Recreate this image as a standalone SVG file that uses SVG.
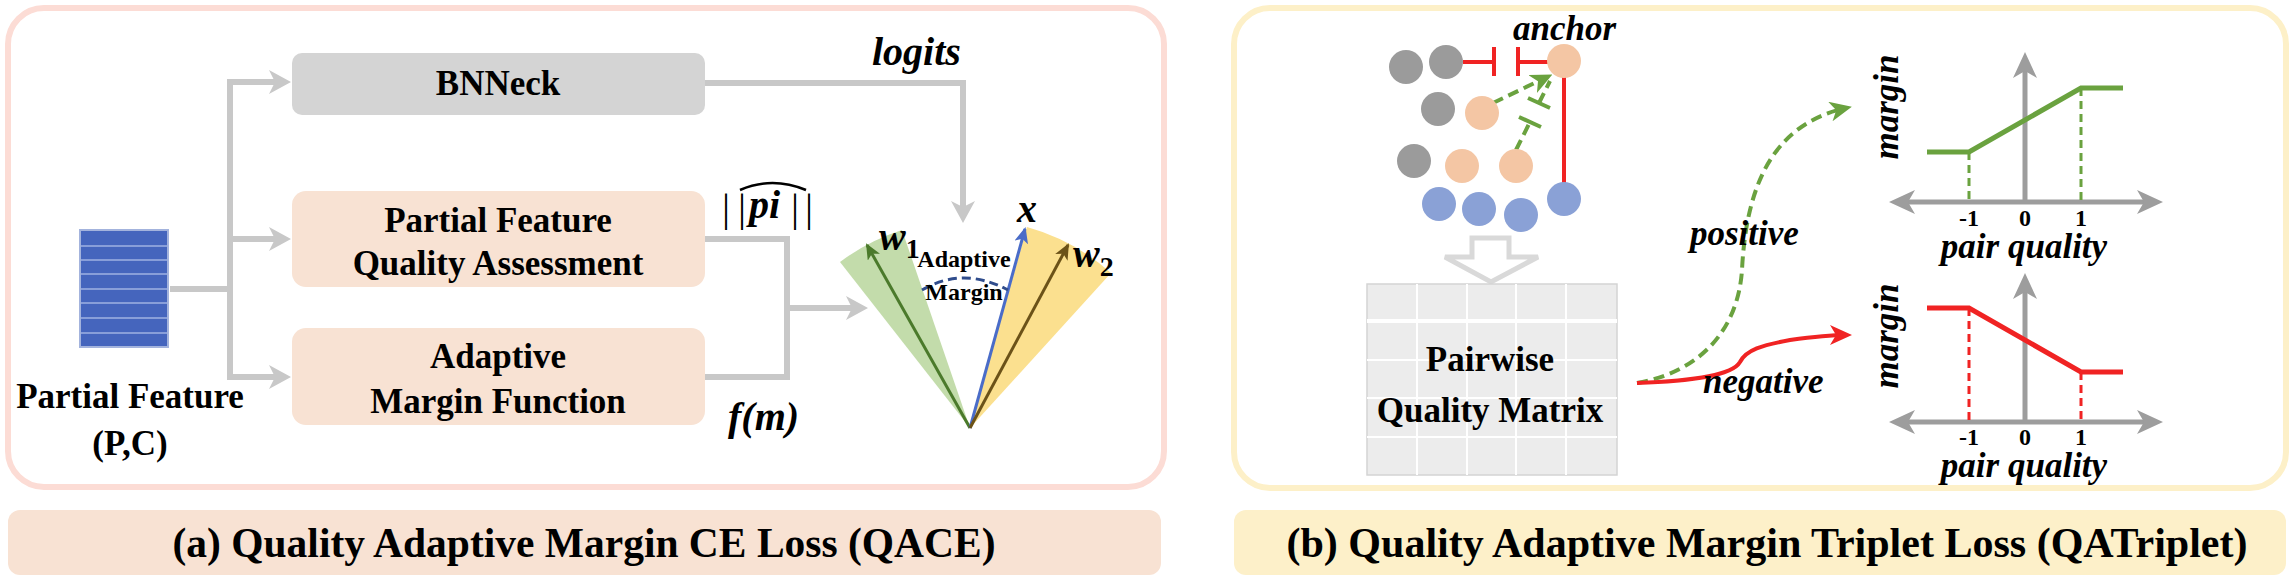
<svg xmlns="http://www.w3.org/2000/svg" width="2296" height="579" viewBox="0 0 2296 579">
<defs>
<style>
text{font-family:"Liberation Serif","Times New Roman",serif;font-weight:bold;fill:#000}
.it{font-style:italic}
.s35{font-size:35px}
.s40{font-size:40px}
.s24{font-size:24px}
.mid{text-anchor:middle}
.conn{fill:none;stroke:#c8c8c8;stroke-width:6}
.axis{fill:none;stroke:#9d9d9d;stroke-width:5}
.gdash{fill:none;stroke:#6aa23f;stroke-width:3;stroke-dasharray:8 5}
.rdash{fill:none;stroke:#f02323;stroke-width:3;stroke-dasharray:8 5}
.grey{fill:#9b9b9b}
.peach{fill:#f4c6a4}
.blue{fill:#8aa1d6}
.red{fill:none;stroke:#f02323;stroke-width:4}
.green{fill:none;stroke:#6aa23f;stroke-width:4;stroke-dasharray:11 6}
.cap{font-size:43px;text-anchor:middle}
</style>
<marker id="ag" viewBox="0 0 22 24" refX="14" refY="12" markerWidth="22" markerHeight="24" markerUnits="userSpaceOnUse" orient="auto"><path d="M0,0 L22,12 L0,24 L6,12 Z" fill="#c8c8c8"/></marker>
<marker id="ax" viewBox="0 0 26 24" refX="18" refY="12" markerWidth="26" markerHeight="24" markerUnits="userSpaceOnUse" orient="auto-start-reverse"><path d="M0,0 L26,12 L0,24 L7,12 Z" fill="#9d9d9d"/></marker>
<marker id="mw1" viewBox="0 0 16 14" refX="14" refY="7" markerWidth="16" markerHeight="14" markerUnits="userSpaceOnUse" orient="auto"><path d="M0,0 L16,7 L0,14 L4,7 Z" fill="#4b7a2b"/></marker>
<marker id="mx" viewBox="0 0 16 14" refX="14" refY="7" markerWidth="16" markerHeight="14" markerUnits="userSpaceOnUse" orient="auto"><path d="M0,0 L16,7 L0,14 L4,7 Z" fill="#4a6cc8"/></marker>
<marker id="mw2" viewBox="0 0 16 14" refX="14" refY="7" markerWidth="16" markerHeight="14" markerUnits="userSpaceOnUse" orient="auto"><path d="M0,0 L16,7 L0,14 L4,7 Z" fill="#6b5218"/></marker>
<marker id="mg" viewBox="0 0 22 20" refX="16" refY="10" markerWidth="22" markerHeight="20" markerUnits="userSpaceOnUse" orient="auto"><path d="M0,0 L22,10 L0,20 L6,10 Z" fill="#6aa23f"/></marker>
<marker id="mr" viewBox="0 0 22 20" refX="16" refY="10" markerWidth="22" markerHeight="20" markerUnits="userSpaceOnUse" orient="auto"><path d="M0,0 L22,10 L0,20 L6,10 Z" fill="#f02323"/></marker>
</defs>

<!-- panels -->
<g id="panel-a">
<rect x="8" y="8" width="1156" height="479" rx="36" fill="#fff" stroke="#fcdcd5" stroke-width="6"/>
</g>
<g id="panel-b">
<rect x="1234" y="8" width="1052" height="480" rx="36" fill="#fff" stroke="#fdf0c8" stroke-width="6"/>
</g>

<!-- connectors -->
<g id="connectors">
<path class="conn" d="M170,289 H230"/>
<path class="conn" d="M283,82 H230 V377 H283" marker-end="url(#ag)"/>
<path class="conn" d="M230,82 H283" marker-end="url(#ag)"/>
<path class="conn" d="M230,239 H283" marker-end="url(#ag)"/>
<path class="conn" d="M705,83 H963 V215" marker-end="url(#ag)"/>
<path class="conn" d="M705,239 H787 V377 H705"/>
<path class="conn" d="M787,308 H860" marker-end="url(#ag)"/>
<path class="green" d="M1637,383 C1700,372 1738,330 1742,270 C1746,190 1770,125 1846,108" marker-end="url(#mg)"/>
<path class="red" d="M1637,383 C1690,381 1732,376 1740,362 C1746,350 1762,345 1790,340 C1812,337 1830,335 1846,335" marker-end="url(#mr)"/>
</g>

<!-- Partial feature block -->
<g id="partial-feature">
<rect x="80" y="230" width="88" height="117" fill="#4565bd" stroke="#a3b3dd" stroke-width="2"/>
<path d="M81,246 H167 M81,260 H167 M81,274 H167 M81,289 H167 M81,303 H167 M81,318 H167 M81,333 H167" stroke="#9fb1e2" stroke-width="1.5"/>
<text class="s35 mid" x="130" y="408">Partial Feature</text>
<text class="s35 mid" x="130" y="455">(P,C)</text>
</g>

<g id="bnneck">
<rect x="292" y="53" width="413" height="62" rx="10" fill="#d4d4d4"/>
<text class="s35 mid" x="498" y="95">BNNeck</text>
</g>
<g id="pfqa">
<rect x="292" y="191" width="413" height="96" rx="14" fill="#f8e2d3"/>
<text class="s35 mid" x="498" y="232">Partial Feature</text>
<text class="s35 mid" x="498" y="275">Quality Assessment</text>
</g>
<g id="amf">
<rect x="292" y="328" width="413" height="97" rx="14" fill="#f8e2d3"/>
<text class="s35 mid" x="498" y="368">Adaptive</text>
<text class="s35 mid" x="498" y="413">Margin Function</text>
</g>

<g id="labels-a">
<text class="s40 it" x="872" y="65">logits</text>
<text class="s40" y="221"><tspan x="722" font-weight="normal">|</tspan><tspan x="738" font-weight="normal">|</tspan><tspan x="749" class="it" y="218">pi</tspan><tspan x="791" y="221" font-weight="normal">|</tspan><tspan x="805" font-weight="normal">|</tspan></text>
<path d="M740,190 Q772,176 806,190" fill="none" stroke="#000" stroke-width="2.5"/>
<text class="s40 it" x="728" y="430">f(m)</text>
</g>

<!-- angular fan -->
<g id="fan">
<path d="M970,428 L840,262 A210,210 0 0,1 902,230 Z" fill="#c3dcab"/>
<path d="M970,428 L1027,227 A210,210 0 0,1 1111,273 Z" fill="#fbe08f"/>
<path d="M970,428 L867,245" stroke="#4b7a2b" stroke-width="3" marker-end="url(#mw1)"/>
<path d="M970,428 L1025,229" stroke="#4a6cc8" stroke-width="3" marker-end="url(#mx)"/>
<path d="M970,428 L1068,245" stroke="#6b5218" stroke-width="3" marker-end="url(#mw2)"/>
<path d="M922,290 Q963,266 1008,290" fill="none" stroke="#2f4c8c" stroke-width="3" stroke-dasharray="9 5"/>
<text class="s40 it" x="879" y="250">w<tspan font-size="28" font-style="normal" dy="8">1</tspan></text>
<text class="s40 it" x="1017" y="222">x</text>
<text class="s40 it" x="1073" y="267">w<tspan font-size="28" font-style="normal" dy="9">2</tspan></text>
<text class="s24 mid" x="964" y="267">Adaptive</text>
<text class="s24 mid" x="964" y="300">Margin</text>
</g>

<!-- triplet samples -->
<g id="samples">
<path class="red" d="M1463,62 H1494 M1494,47 V76 M1518,47 V76 M1518,62 H1548 M1564,77 V184"/>
<path class="green" d="M1493,103 L1547,77" marker-end="url(#mg)"/>
<path class="green" d="M1516,150 L1530,122"/>
<path d="M1519,117 L1541,127 M1528,98 L1550,108" stroke="#6aa23f" stroke-width="4"/>
<path class="green" d="M1539,103 L1550,81"/>
<circle class="grey" cx="1406" cy="67" r="17"/>
<circle class="grey" cx="1446" cy="62" r="17"/>
<circle class="grey" cx="1438" cy="109" r="17"/>
<circle class="grey" cx="1414" cy="161" r="17"/>
<circle class="peach" cx="1564" cy="61" r="17"/>
<circle class="peach" cx="1482" cy="113" r="17"/>
<circle class="peach" cx="1462" cy="166" r="17"/>
<circle class="peach" cx="1516" cy="166" r="17"/>
<circle class="blue" cx="1439" cy="204" r="17"/>
<circle class="blue" cx="1479" cy="209" r="17"/>
<circle class="blue" cx="1521" cy="215" r="17"/>
<circle class="blue" cx="1564" cy="199" r="17"/>
<text class="s35 it" x="1513" y="40">anchor</text>
<path d="M1472,238 H1509 V257 H1538 L1491,282 L1445,257 H1472 Z" fill="#fff" stroke="#d9d9d9" stroke-width="5"/>
</g>

<g id="matrix">
<rect x="1367" y="284" width="250" height="191" fill="#ececec" stroke="#d4d4d4" stroke-width="1.5"/>
<path d="M1417,284 V475 M1467,284 V475 M1516,284 V475 M1566,284 V475 M1367,360 H1617 M1367,398 H1617 M1367,437 H1617" stroke="#fff" stroke-width="2"/>
<path d="M1367,321 H1617" stroke="#fff" stroke-width="4"/>
<text class="s35 mid" x="1490" y="371">Pairwise</text>
<text class="s35 mid" x="1490" y="422">Quality Matrix</text>
</g>

<g id="curve-labels">
<text class="s35 it" x="1690" y="245">positive</text>
<text class="s35 it" x="1703" y="393">negative</text>
</g>

<!-- positive margin graph -->
<g id="graph-positive">
<path class="axis" d="M1897,202 H2155" marker-start="url(#ax)" marker-end="url(#ax)"/>
<path class="axis" d="M2025,202 V60" marker-end="url(#ax)"/>
<path class="gdash" d="M1969,152 V200 M2081,88 V200"/>
<path d="M1927,152 H1969 L2081,88 H2123" fill="none" stroke="#6aa23f" stroke-width="5"/>
<text class="s24 mid" x="1969" y="226">-1</text>
<text class="s24 mid" x="2025" y="226">0</text>
<text class="s24 mid" x="2081" y="226">1</text>
<text class="s35 it mid" x="2024" y="258">pair quality</text>
<text class="s35 it mid" transform="translate(1898,107) rotate(-90)">margin</text>
</g>

<!-- negative margin graph -->
<g id="graph-negative">
<path class="axis" d="M1897,422 H2155" marker-start="url(#ax)" marker-end="url(#ax)"/>
<path class="axis" d="M2025,422 V281" marker-end="url(#ax)"/>
<path class="rdash" d="M1969,308 V420 M2081,372 V420"/>
<path d="M1927,308 H1969 L2081,372 H2123" fill="none" stroke="#f02323" stroke-width="5"/>
<text class="s24 mid" x="1969" y="445">-1</text>
<text class="s24 mid" x="2025" y="445">0</text>
<text class="s24 mid" x="2081" y="445">1</text>
<text class="s35 it mid" x="2024" y="477">pair quality</text>
<text class="s35 it mid" transform="translate(1898,336) rotate(-90)">margin</text>
</g>

<!-- captions -->
<g id="caption-a">
<rect x="8" y="510" width="1153" height="65" rx="12" fill="#f8e2d3"/>
<text class="cap" x="584" y="557" textLength="823" lengthAdjust="spacingAndGlyphs">(a) Quality Adaptive Margin CE Loss (QACE)</text>
</g>
<g id="caption-b">
<rect x="1234" y="510" width="1052" height="65" rx="12" fill="#fdf0c9"/>
<text class="cap" x="1767" y="557" textLength="961" lengthAdjust="spacingAndGlyphs">(b) Quality Adaptive Margin Triplet Loss (QATriplet)</text>
</g>
</svg>
